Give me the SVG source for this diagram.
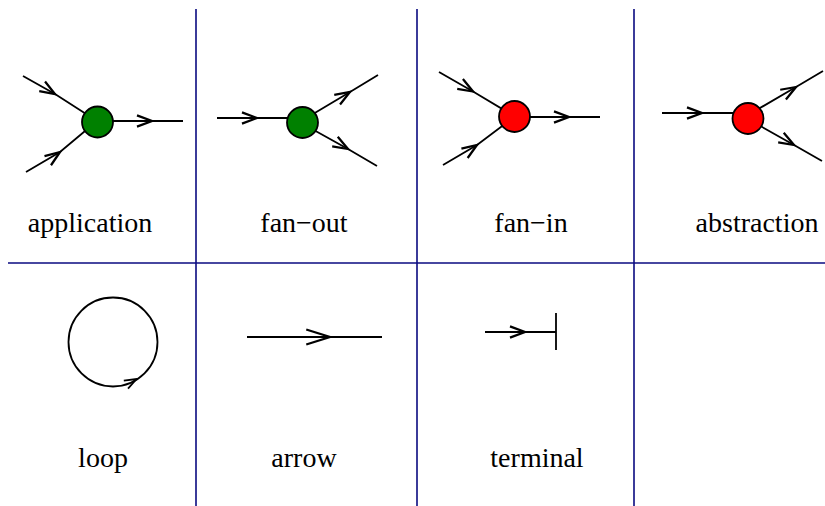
<svg xmlns="http://www.w3.org/2000/svg" width="825" height="506" viewBox="0 0 825 506">
<style>
.grid{stroke:#0a0a80;stroke-width:1.6;fill:none}
.edge{stroke:#000;stroke-width:1.8;fill:none;marker-mid:url(#v)}
.big{stroke:#000;stroke-width:1.8;fill:none;marker-mid:url(#vb)}
.plain{stroke:#000;stroke-width:1.8;fill:none}
.node{stroke:#000;stroke-width:1.8}
.g{fill:#008000}
.r{fill:#ff0000}
.lbl{font-family:"Liberation Serif","Times New Roman",serif;font-size:28px;fill:#000;text-anchor:middle}
</style>
<defs>
<marker id="v" markerUnits="userSpaceOnUse" markerWidth="20" markerHeight="20" refX="0" refY="0" viewBox="-14 -7 16 14" orient="auto" overflow="visible">
<path d="M-12,-4.5 L0,0 L-12,4.5" fill="none" stroke="#000" stroke-width="1.8"/>
</marker>
<marker id="vb" markerUnits="userSpaceOnUse" markerWidth="30" markerHeight="20" refX="0" refY="0" viewBox="-22 -8 24 16" orient="auto" overflow="visible">
<path d="M-19,-6 L0,0 L-19,6" fill="none" stroke="#000" stroke-width="1.8"/>
</marker>
</defs>
<rect width="825" height="506" fill="#fff"/>
<g id="grid">
<line class="grid" x1="196" y1="9" x2="196" y2="506"/>
<line class="grid" x1="417" y1="9" x2="417" y2="506"/>
<line class="grid" x1="634" y1="9" x2="634" y2="506"/>
<line class="grid" x1="8" y1="263" x2="825" y2="263"/>
</g>
<g id="connectors">
<polyline class="edge" points="23,76 55,94 97,121"/>
<polyline class="edge" points="26,172 60,152 97,121"/>
<polyline class="edge" points="97,121 152,121 183,121"/>
<polyline class="edge" points="217,118 257,118 300,118"/>
<polyline class="edge" points="303,120 350,92 378,75"/>
<polyline class="edge" points="303,124 348,149 377,166"/>
<polyline class="edge" points="439,72 473,91.5 514,116"/>
<polyline class="edge" points="443,165 477,145 514,117"/>
<polyline class="edge" points="514,117 569,117 600,117"/>
<polyline class="edge" points="662,113 702,113 740,113"/>
<polyline class="edge" points="748,115 796,87 823,71"/>
<polyline class="edge" points="748,119 794,145 822,161"/>
<polyline class="big" points="247,337 330,337 382,337"/>
<polyline class="edge" points="485,332 525,332 556,332"/>
<line class="plain" x1="556" y1="313" x2="556" y2="350"/>
</g>
<g id="application">
<circle class="node g" cx="97.5" cy="122" r="15.5"/>
<text class="lbl" x="90" y="232">application</text>
</g>
<g id="fan-out">
<circle class="node g" cx="302.5" cy="122.5" r="15.5"/>
<text class="lbl" x="304" y="232">fan−out</text>
</g>
<g id="fan-in">
<circle class="node r" cx="514.5" cy="116.5" r="15.5"/>
<text class="lbl" x="531" y="232">fan−in</text>
</g>
<g id="abstraction">
<circle class="node r" cx="748" cy="118.5" r="15.5"/>
<text class="lbl" x="757" y="232">abstraction</text>
</g>
<g id="loop">
<circle class="plain" cx="113" cy="342" r="44.5"/>
<path d="M-12,-4.5 L0,0 L-12,4.5" fill="none" stroke="#000" stroke-width="1.8" transform="translate(136.5,379) rotate(-28)"/>
<text class="lbl" x="103" y="467">loop</text>
</g>
<g id="arrow">
<text class="lbl" x="304" y="467">arrow</text>
</g>
<g id="terminal">
<text class="lbl" x="537" y="467">terminal</text>
</g>
</svg>
